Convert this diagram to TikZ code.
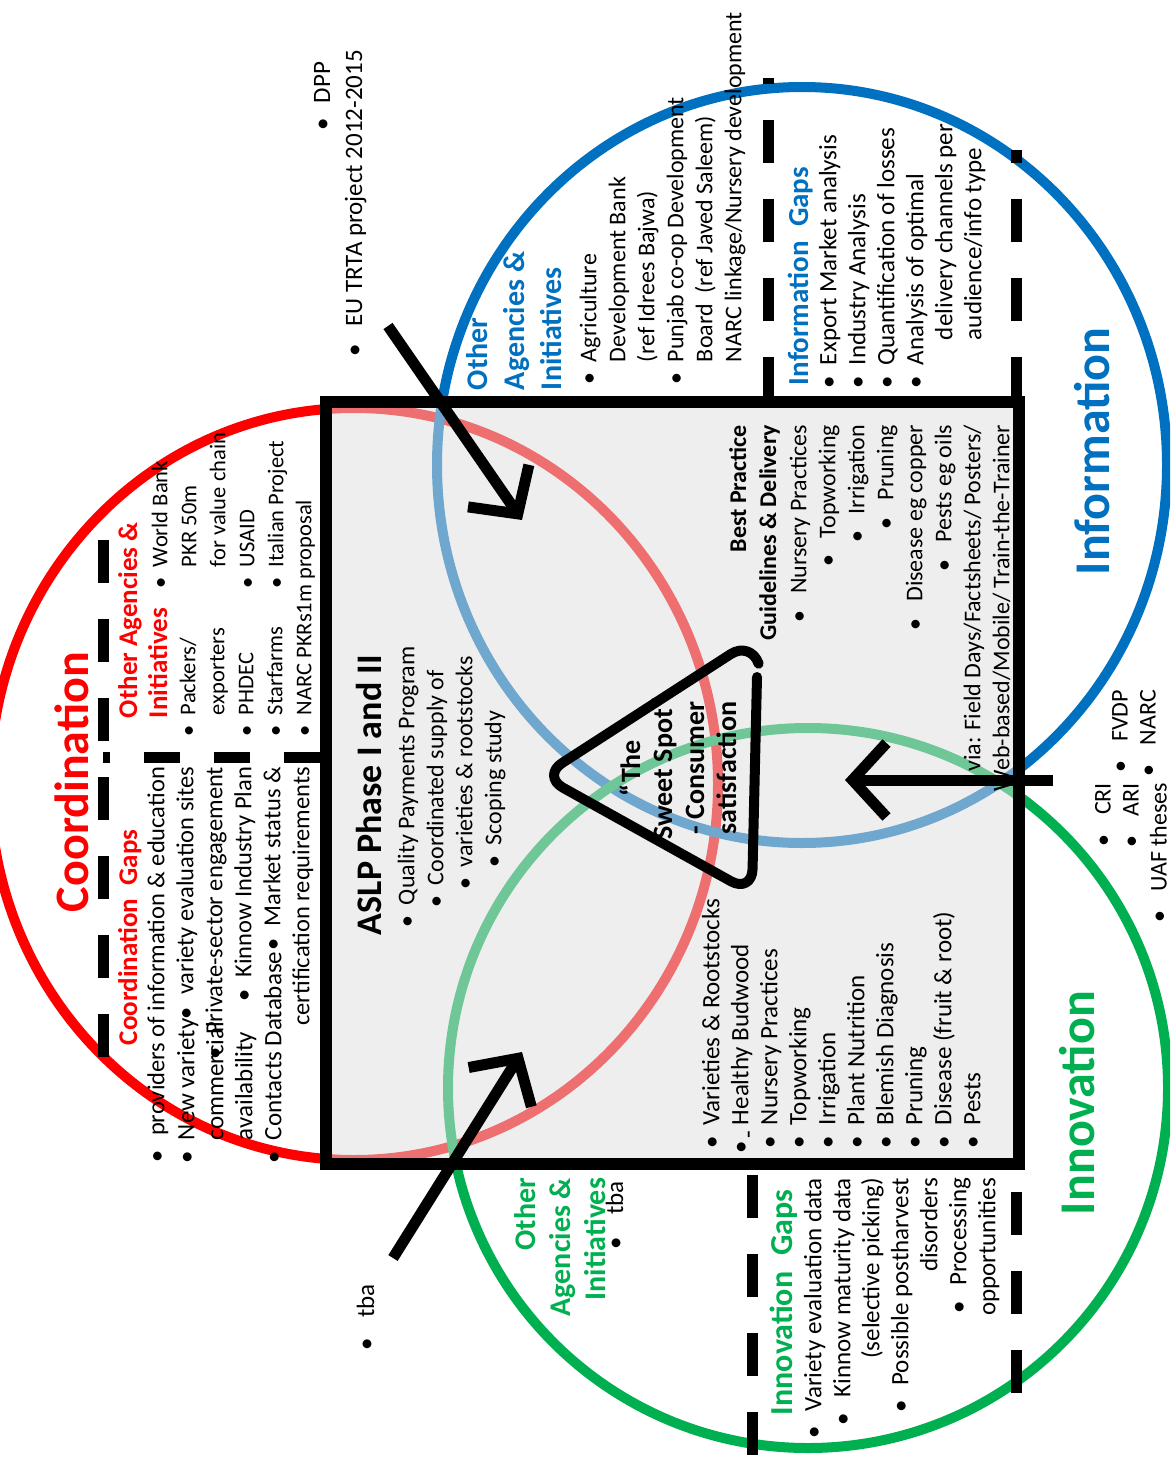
\documentclass[tikz,border=0pt]{standalone}
\usepackage{fontspec}
\setmainfont{Carlito}
\usetikzlibrary{arrows.meta}
\definecolor{coordred}{RGB}{255,0,0}
\definecolor{infoblue}{RGB}{0,112,192}
\definecolor{innogreen}{RGB}{0,176,80}
% hanging bullet in front of a left-aligned line
\newcommand{\hb}{\llap{\textbullet\hspace{0.45em}}}
% bullet followed by a gap, for right-aligned lines
\newcommand{\bb}[1][0.5em]{\textbullet\hspace{#1}}
\begin{document}
\begin{tikzpicture}[x=1pt,y=-1pt,
  rtext/.style={rotate=90,inner sep=0pt,outer sep=0pt},
  body/.style={rtext,font=\fontsize{25}{29}\selectfont},
  note/.style={rtext,font=\fontsize{24}{29}\selectfont},
  narrow/.style={rtext,font=\fontsize{22.5}{29}\selectfont},
  head/.style={rtext,font=\bfseries\fontsize{27}{30}\selectfont},
  ring/.style={line width=10pt},
  sep/.style={line width=11pt,dash pattern=on 43pt off 36pt},
  push/.style={line width=11pt,-{Straight Barb[length=34pt,width=74pt]}},
  spot/.style={line width=10pt,rounded corners=24pt,line cap=round,line join=round},
]
\useasboundingbox (0,0) rectangle (1170,1458);
\clip (0,0) rectangle (1170,1458);
\fill[white] (0,0) rectangle (1170,1458);

% the three overlapping circles
\draw[ring,coordred] (354,784) ellipse[x radius=364pt,y radius=376pt];
\draw[ring,infoblue] (802,465) ellipse[x radius=365pt,y radius=378pt];
\draw[ring,innogreen] (808,1088) circle[radius=360pt];

% ASLP box, translucent so the circles show through faded
\node[draw,line width=12pt,fill=black!13,fill opacity=0.5,
      minimum width=693pt,minimum height=762pt] (box) at (672.5,783) {};

% dashed separators
\draw[sep] (103,540) -- (103,1062);
\draw[line width=11pt,dash pattern=on 36pt off 34pt] (320,757) -- (103,757);
\draw[sep] (768,400) -- (768,78);
\draw[sep] (1016,400) -- (1016,150);
\draw[sep] (752,1175) -- (752,1458);
\draw[sep] (1016,1192) -- (1016,1400);

% Coordination
\node[rtext,coordred,font=\bfseries\fontsize{48}{56}\selectfont,anchor=base west] (coordlabel) at (88,912) {Coordination};
\node[head,coordred,anchor=base west] (coordgapshead) at (137,1045) {Coordination\hspace{0.5em}Gaps};
\node[head,coordred,anchor=north west,align=left] (coordagenthead) at (116,718) {\strut Other Agencies \&\\Initiatives};
\node[rtext,font=\fontsize{24.5}{29}\selectfont,anchor=north east,align=right] (coordgaps) at (144,767) {\strut\bb[0.6em]providers of information \& education\\
  \bb variety evaluation sites\\
  \bb Private-sector engagement\\
  \bb Kinnow Industry Plan\\
  \bb Market status \&\\
  certification requirements};
\node[body,anchor=north west,align=left] (coordleft) at (174,1140) {\strut\hb New variety\\commercial\\availability\\\hb Contacts Database};
\node[narrow,anchor=north west,align=left] (coordag1) at (175,715) {\strut\hb Packers/\\exporters\\\hb PHDEC\\\hb Starfarms\\\hb NARC PKRs1m proposal};
\node[narrow,anchor=north west,align=left] (coordag2) at (147,567) {\strut\hb World Bank\\PKR 50m\\for value chain\\\hb USAID\\\hb Italian Project};

% Information
\node[rtext,infoblue,font=\bfseries\fontsize{30}{37}\selectfont,anchor=north west,align=left] (infoagenthead) at (462,390) {\strut Other\\Agencies \&\\Initiatives};
\node[note,anchor=north west,align=left] (infoagents) at (576,362) {\strut\hb Agriculture\\Development Bank\\(ref Idrees Bajwa)\\\hb Punjab co-op Development\\Board\ \ (ref Javed Saleem)\\NARC linkage/Nursery development};
\node[rtext,infoblue,font=\bfseries\fontsize{29}{34}\selectfont,anchor=base west] (infogapshead) at (808,385) {Information\hspace{0.5em}Gaps};
\node[body,anchor=north west,align=left] (infogaps) at (816,365) {\strut\hb Export Market analysis\\\hb Industry Analysis\\\hb Quantification of losses\\\hb Analysis of optimal\\\hspace*{1em}delivery channels per\\\hspace*{1em}audience/info type};
\node[rtext,infoblue,font=\bfseries\fontsize{50}{60}\selectfont,anchor=base west] (infolabel) at (1109,575) {Information};

% inside the box
\node[rtext,font=\bfseries\fontsize{36}{42}\selectfont,anchor=base west] (aslptitle) at (381,935) {ASLP Phase I and II};
\node[note,anchor=north west,align=left] (aslplist) at (394,905) {\strut\hb Quality Payments Program\\\hspace*{20pt}\hb Coordinated supply of\\\hspace*{38pt}\hb varieties \& rootstocks\\\hspace*{60pt}\hb Scoping study};
\node[rtext,font=\bfseries\fontsize{28}{32}\selectfont,align=center] (sweettext) at (678,768) {“The\\Sweet Spot”\\- Consumer\\satisfaction};
\node[rtext,font=\bfseries\fontsize{24}{30}\selectfont,anchor=north east,align=right] (bphead) at (725,425) {\strut Best Practice\\Guidelines \& Delivery};
\node[note,anchor=north east,align=right] (bplist) at (786,425) {\strut\bb[0.7em]Nursery Practices\\\bb[0.7em]Topworking\\\bb[0.7em]Irrigation\\\bb[0.7em]Pruning\\\bb[0.7em]Disease eg copper\\\bb[0.7em]Pests eg oils\\via: Field Days/Factsheets/ Posters/\\Web-based/Mobile/ Train-the-Trainer};
\node[body,anchor=north west,align=left] (boxlist) at (699,1125) {\strut\hb Varieties \& Rootstocks\\\llap{\textbullet\hspace{0.1em}\raisebox{-0.3em}{-}\hspace{0.25em}}Healthy Budwood\\\hb Nursery Practices\\\hb Topworking\\\hb Irrigation\\\hb Plant Nutrition\\\hb Blemish Diagnosis\\\hb Pruning\\\hb Disease (fruit \& root)\\\hb Pests};

% the sweet spot outline, a rounded triangle with a small break at the top right
\draw[spot] (757,677) -- (752,893) -- (542,776) -- (751,641) -- (758,662);

% Innovation
\node[rtext,innogreen,font=\bfseries\fontsize{30}{35}\selectfont,anchor=north east,align=right] (innoagenthead) at (511,1178) {\strut Other\\Agencies \&\\Initiatives};
\node[body,anchor=base east] (innotba) at (623,1181) {\bb[0.9em]tba};
\node[rtext,innogreen,font=\bfseries\fontsize{32}{36}\selectfont,anchor=base west] (innogapshead) at (792,1415) {Innovation\hspace{0.5em}Gaps};
\node[body,anchor=north east,align=right] (innogaps) at (801,1178) {\strut\bb[0.6em]Variety evaluation data\\\bb[0.6em]Kinnow maturity data\\(selective picking)\\\bb[0.6em]Possible postharvest\\disorders\\\bb[0.6em]Processing\\opportunities};
\node[rtext,innogreen,font=\bfseries\fontsize{50}{60}\selectfont,anchor=base west] (innolabel) at (1094,1215) {Innovation};

% outside sources
\node[body,anchor=base east] (dpp) at (330,62) {\bb[0.6em]DPP};
\node[body,anchor=base east] (eutrta) at (362,50) {\bb[0.7em]EU TRTA project 2012-2015};
\node[body,anchor=base west] (tba) at (374,1350) {\bb[0.8em]tba};
\node[rtext,font=\fontsize{24}{28}\selectfont,anchor=north east,align=right] (srcleft) at (1091,783) {\strut\bb[0.8em]CRI\\\bb[0.8em]ARI\\\bb[0.8em]UAF theses};
\node[rtext,font=\fontsize{24}{28}\selectfont,anchor=north east,align=right] (srcright) at (1108,690) {\strut\bb[0.8em]FVDP\\\bb[0.8em]NARC};

% arrows feeding the sweet spot
\coordinate (eutail) at (388,326);
\coordinate (euhead) at (522,520);
\coordinate (tbatail) at (393,1258);
\coordinate (tbahead) at (522,1052);
\coordinate (srctail) at (1053,780);
\coordinate (srchead) at (845,780);
\draw[push] (eutail) -- (euhead);
\draw[push] (tbatail) -- (tbahead);
\draw[push] (srctail) -- (srchead);
\end{tikzpicture}
\end{document}
